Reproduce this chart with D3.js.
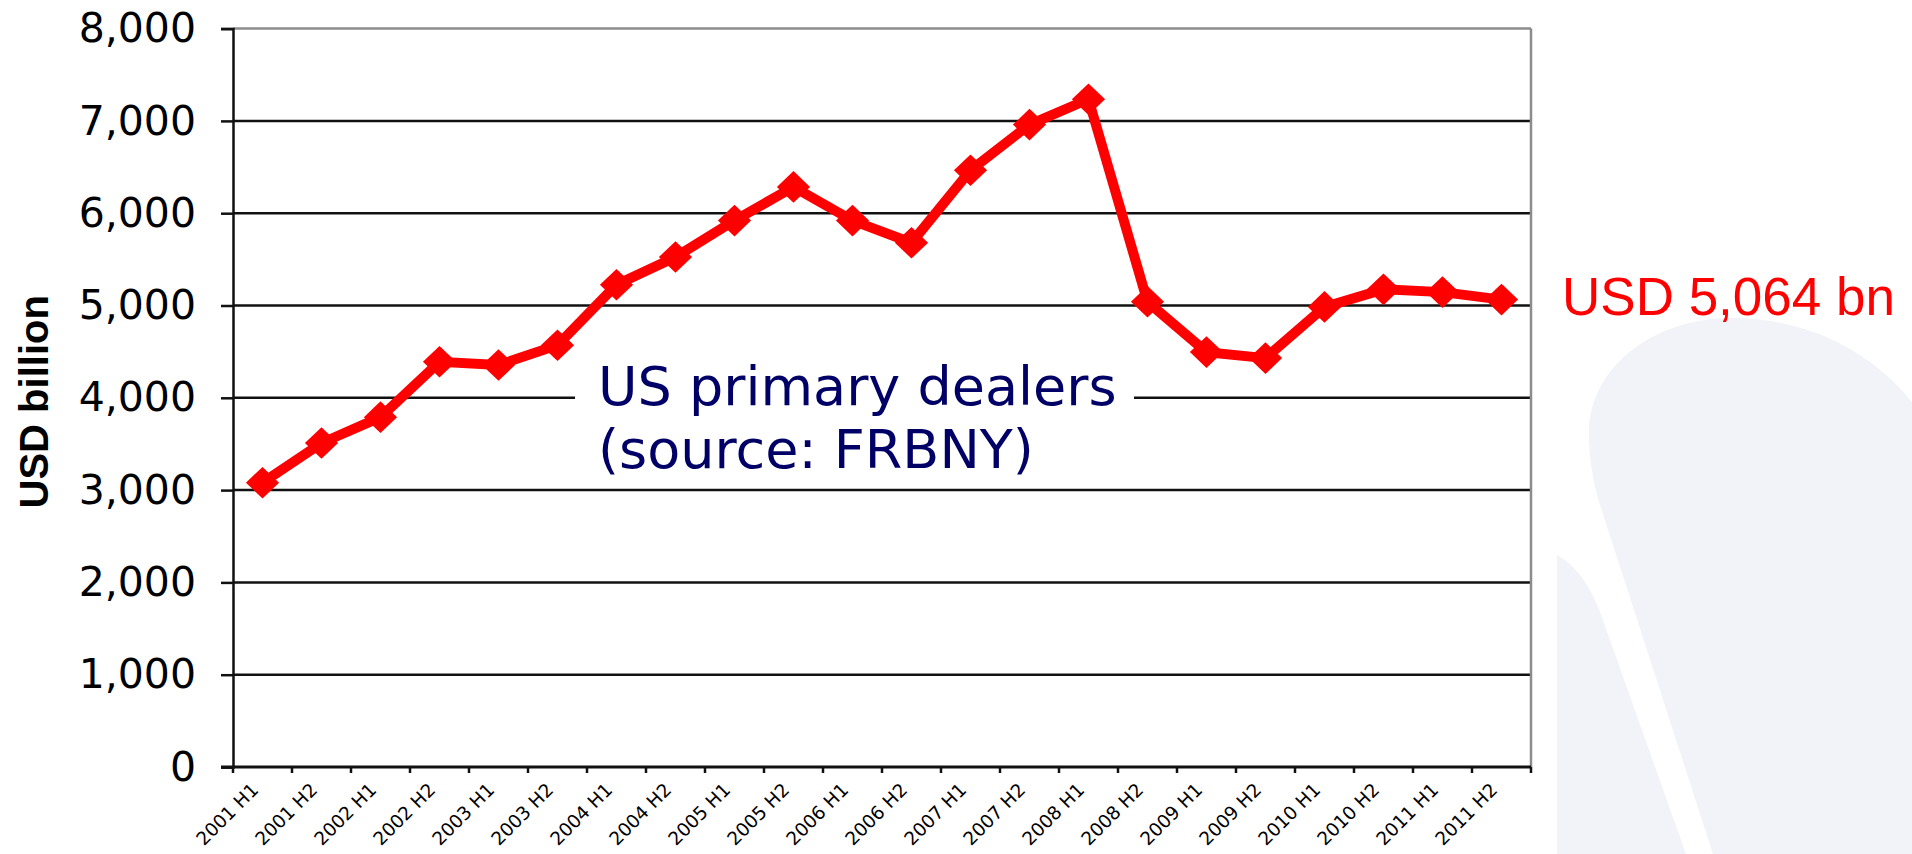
<!DOCTYPE html>
<html>
<head>
<meta charset="utf-8">
<script src="https://cdn.jsdelivr.net/npm/d3@7"></script>
<style>
	body { margin: 0; background: #fff; }
	svg { display: block; }
</style>
</head>
<body>
<div id="chart"></div>
<script>
const periods = [
	'2001 H1', '2001 H2', '2002 H1', '2002 H2', '2003 H1', '2003 H2',
	'2004 H1', '2004 H2', '2005 H1', '2005 H2', '2006 H1', '2006 H2',
	'2007 H1', '2007 H2', '2008 H1', '2008 H2', '2009 H1', '2009 H2',
	'2010 H1', '2010 H2', '2011 H1', '2011 H2'
];
// US primary dealers, USD billion
const dealerValues = [
	3080, 3510, 3790, 4390, 4355, 4570,
	5225, 5525, 5920, 6285, 5920, 5680,
	6465, 6960, 7235, 5040, 4495, 4430,
	4985, 5175, 5145, 5064
];
const yTicks = [0, 1000, 2000, 3000, 4000, 5000, 6000, 7000, 8000];
const annotationLines = ['US primary dealers', '(source: FRBNY)'];
const lastLabel = 'USD 5,064 bn';
const yTitle = 'USD billion';

const width = 1912;
const height = 854;
const margin = { top: 28.6, left: 233, right: 381, bottom: 87 };

const svg = d3.select('#chart')
	.append('svg')
	.attr('width', width)
	.attr('height', height);

// faint logo shapes in the corner
const bg = svg.append('g').attr('fill', '#f2f3f8');
bg.append('path')
	.attr('d', 'M1557,555 C1575,565 1590,585 1600,612 L1686,854 L1557,854 Z');
bg.append('path')
	.attr('d', 'M1713,854 L1600,505 C1592,480 1588,450 1589,425 C1595,360 1660,318 1732,318 C1805,318 1870,350 1912,402 L1912,854 Z');

const x = d3.scaleBand()
	.domain(periods)
	.range([margin.left, width - margin.right]);

const y = d3.scaleLinear()
	.domain([0, 8000])
	.range([height - margin.bottom, margin.top]);

// horizontal grid lines
svg.append('g')
	.selectAll('line')
	.data(yTicks.filter(d => d > 0))
	.enter()
	.append('line')
	.attr('x1', margin.left)
	.attr('x2', width - margin.right)
	.attr('y1', d => y(d))
	.attr('y2', d => y(d))
	.attr('stroke', d => d === 8000 ? '#8c8c8c' : '#111')
	.attr('stroke-width', 2.5);

// right border
svg.append('line')
	.attr('x1', width - margin.right)
	.attr('x2', width - margin.right)
	.attr('y1', y(8000))
	.attr('y2', y(0))
	.attr('stroke', '#8c8c8c')
	.attr('stroke-width', 2.5);

// y axis
const yAxis = svg.append('g')
	.attr('transform', `translate(${margin.left},0)`)
	.call(d3.axisLeft(y).tickValues(yTicks).tickSize(12).tickPadding(25).tickFormat(d3.format(',')));
yAxis.select('.domain').attr('stroke', '#111').attr('stroke-width', 2.5);
yAxis.selectAll('.tick line').attr('stroke', '#111').attr('stroke-width', 2.5);
yAxis.selectAll('.tick text')
	.attr('fill', '#000')
	.style('font-family', '"DejaVu Sans", Verdana, sans-serif')
	.style('font-size', '41px');

// x axis, ticks on category boundaries
const xAxis = svg.append('g')
	.attr('transform', `translate(0,${y(0)})`);
xAxis.append('line')
	.attr('x1', margin.left - 12)
	.attr('x2', width - margin.right)
	.attr('stroke', '#111')
	.attr('stroke-width', 3);
xAxis.selectAll('line.tick')
	.data(periods.concat(['end']))
	.enter()
	.append('line')
	.attr('class', 'tick')
	.attr('x1', (d, i) => i < periods.length ? x(d) : x.range()[1])
	.attr('x2', (d, i) => i < periods.length ? x(d) : x.range()[1])
	.attr('y1', 0)
	.attr('y2', 6)
	.attr('stroke', '#111')
	.attr('stroke-width', 2.5);
xAxis.selectAll('text')
	.data(periods)
	.enter()
	.append('text')
	.text(d => d)
	.attr('text-anchor', 'end')
	.attr('transform', d => `translate(${x(d) + x.bandwidth() / 2 - 3},${24}) rotate(-45)`)
	.attr('fill', '#000')
	.style('font-family', '"DejaVu Sans", Verdana, sans-serif')
	.style('font-size', '18.5px');

// y title
svg.append('text')
	.text(yTitle)
	.attr('transform', `translate(48,${(y(0) + y(8000)) / 2 + 4}) rotate(-90)`)
	.attr('text-anchor', 'middle')
	.attr('font-weight', 'bold')
	.style('font-family', '"Liberation Sans", Arial, sans-serif')
	.style('font-size', '40px');

// annotation box covering the grid behind it
svg.append('rect')
	.attr('x', 575)
	.attr('y', y(4000) - 45)
	.attr('width', 559)
	.attr('height', 130)
	.attr('fill', '#fff');

svg.append('text')
	.attr('fill', '#000066')
	.style('font-family', '"DejaVu Sans", Verdana, sans-serif')
	.style('font-size', '54px')
	.selectAll('tspan')
	.data(annotationLines)
	.enter()
	.append('tspan')
	.attr('x', 598)
	.attr('y', (d, i) => 405 + i * 63)
	.text(d => d);

// the series
const line = d3.line()
	.x((d, i) => x(periods[i]) + x.bandwidth() / 2)
	.y(d => y(d));

svg.append('path')
	.datum(dealerValues)
	.attr('fill', 'none')
	.attr('stroke', '#ff0000')
	.attr('stroke-width', 10)
	.attr('d', line);

const diamond = {
	draw(context, size) {
		const r = Math.sqrt(size) / 2;
		context.moveTo(0, -r);
		context.lineTo(r * 1.05, 0);
		context.lineTo(0, r);
		context.lineTo(-r * 1.05, 0);
		context.closePath();
	}
};

svg.append('g')
	.selectAll('path')
	.data(dealerValues)
	.enter()
	.append('path')
	.attr('d', d3.symbol().type(diamond).size(1000))
	.attr('transform', (d, i) => `translate(${x(periods[i]) + x.bandwidth() / 2},${y(d)})`)
	.attr('fill', '#ff0000');

// end label
svg.append('text')
	.text(lastLabel)
	.attr('x', 1562)
	.attr('y', 315)
	.attr('fill', '#ff0000')
	.style('font-family', '"Liberation Sans", Arial, sans-serif')
	.style('font-size', '53px');
</script>
</body>
</html>
